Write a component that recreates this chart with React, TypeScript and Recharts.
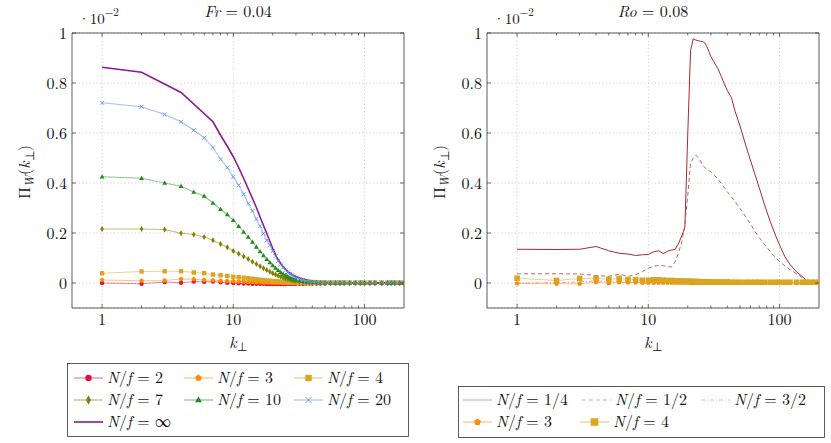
import React from 'react'
import { LineChart, Line, XAxis, YAxis, CartesianGrid, ReferenceLine } from 'recharts'

// wavenumbers k_perp (integer up to 30, then sparser)
const K = [
  1, 2, 3, 4, 5, 6, 7, 8, 9, 10,
  11, 12, 13, 14, 15, 16, 17, 18, 19, 20,
  21, 22, 23, 24, 25, 26, 27, 28, 29, 30,
  32, 34, 36, 38, 40, 43, 46, 50, 55, 60,
  65, 70, 77, 85, 93, 100, 110, 120, 135, 150,
  160, 170, 185, 200,
]

// left panel, Fr = 0.04 (values in units of 1e-2)
const L_NF2 = [
  0.0, -0.003, 0.004, 0.001, 0.006, 0.005, 0.006, 0.003, 0.001, 0.0,
  -0.001, -0.002, -0.002, -0.003, -0.003, -0.003, -0.003, -0.004, -0.004, -0.004,
  -0.004, -0.004, -0.004, -0.004, -0.004, -0.003, -0.003, -0.003, -0.003, -0.003,
  -0.003, -0.003, -0.002, -0.002, -0.002, -0.002, -0.002, -0.002, -0.001, -0.001,
  -0.001, -0.001, -0.001, -0.001, -0.001, -0.001, -0.001, -0.001, -0.001, -0.001,
  -0.001, -0.001, -0.001, -0.001,
]
const L_NF3 = [
  0.012, 0.009, 0.01, 0.016, 0.015, 0.012, 0.011, 0.009, 0.008, 0.007,
  0.006, 0.005, 0.004, 0.004, 0.003, 0.003, 0.002, 0.002, 0.002, 0.001,
  0.001, 0.001, 0.001, 0.0, 0.0, 0.0, 0.0, 0.0, 0.0, 0.0,
  0.0, 0.0, 0.0, 0.0, 0.0, 0.0, 0.0, 0.0, 0.0, 0.0,
  0.0, 0.0, 0.0, 0.0, 0.0, 0.0, 0.0, 0.0, 0.0, 0.0,
  0.0, 0.0, 0.0, 0.0,
]
const L_NF4 = [
  0.039, 0.046, 0.047, 0.047, 0.042, 0.039, 0.034, 0.031, 0.028, 0.025,
  0.023, 0.021, 0.019, 0.017, 0.015, 0.013, 0.012, 0.01, 0.009, 0.008,
  0.007, 0.006, 0.005, 0.004, 0.004, 0.003, 0.003, 0.002, 0.002, 0.002,
  0.002, 0.002, 0.002, 0.002, 0.002, 0.002, 0.002, 0.002, 0.002, 0.002,
  0.002, 0.002, 0.002, 0.002, 0.002, 0.002, 0.002, 0.002, 0.002, 0.002,
  0.002, 0.002, 0.002, 0.002,
]
const L_NF7 = [
  0.216, 0.216, 0.214, 0.199, 0.194, 0.184, 0.171, 0.156, 0.143, 0.128,
  0.117, 0.106, 0.096, 0.085, 0.076, 0.067, 0.059, 0.052, 0.045, 0.039,
  0.034, 0.029, 0.025, 0.021, 0.018, 0.015, 0.013, 0.011, 0.009, 0.008,
  0.006, 0.004, 0.003, 0.002, 0.002, 0.001, 0.001, 0.0, 0.0, 0.0,
  0.0, 0.0, 0.0, 0.0, 0.0, 0.0, 0.0, 0.0, 0.0, 0.0,
  0.0, 0.0, 0.0, 0.0,
]
const L_NF10 = [
  0.425, 0.419, 0.4, 0.387, 0.364, 0.348, 0.32, 0.295, 0.274, 0.251,
  0.227, 0.204, 0.184, 0.164, 0.144, 0.126, 0.11, 0.095, 0.082, 0.07,
  0.06, 0.051, 0.043, 0.036, 0.031, 0.026, 0.022, 0.018, 0.015, 0.013,
  0.009, 0.007, 0.005, 0.004, 0.003, 0.002, 0.001, 0.001, 0.0, 0.0,
  0.0, 0.0, 0.0, 0.0, 0.0, 0.0, 0.0, 0.0, 0.0, 0.0,
  0.0, 0.0, 0.0, 0.0,
]
const L_NF20 = [
  0.721, 0.705, 0.674, 0.645, 0.611, 0.581, 0.542, 0.495, 0.462, 0.424,
  0.391, 0.355, 0.318, 0.288, 0.256, 0.227, 0.198, 0.171, 0.151, 0.128,
  0.108, 0.089, 0.074, 0.062, 0.051, 0.043, 0.036, 0.031, 0.026, 0.022,
  0.016, 0.012, 0.009, 0.007, 0.005, 0.004, 0.003, 0.002, 0.002, 0.002,
  0.002, 0.002, 0.001, 0.001, 0.001, 0.001, 0.001, 0.001, 0.001, 0.001,
  0.001, 0.001, 0.001, 0.001,
]
const L_NFINF = [
  0.863, 0.843, null, 0.762, null, null, 0.645, 0.591, 0.547, 0.505,
  0.461, 0.418, 0.377, 0.338, 0.302, 0.264, 0.23, 0.198, 0.167, 0.138,
  0.113, 0.093, 0.078, 0.065, 0.055, 0.047, 0.04, 0.034, 0.03, 0.026,
  0.02, 0.016, 0.013, 0.01, 0.008, 0.006, 0.005, 0.004, 0.003, 0.002,
  0.002, 0.002, 0.001, 0.001, 0.001, 0.001, 0.001, 0.001, 0.001, 0.001,
  0.001, 0.001, 0.001, 0.001,
]

// right panel, Ro = 0.08
const R_NF14 = [
  0.135, 0.134, 0.135, 0.146, 0.129, 0.119, 0.116, 0.11, 0.113, 0.114,
  0.125, 0.129, 0.118, 0.127, 0.132, 0.134, 0.158, 0.189, 0.222, 0.6,
  0.93, 0.977, 0.972, 0.969, 0.967, 0.966, 0.96, 0.945, 0.925, 0.906,
  0.88, 0.857, 0.826, 0.797, 0.77, 0.742, 0.685, 0.628, 0.555, 0.492,
  0.435, 0.382, 0.312, 0.246, 0.192, 0.152, 0.105, 0.075, 0.044, 0.025,
  0.011, 0.002, null, null,
]
const R_NF12 = [
  0.037, 0.037, 0.036, 0.03, 0.027, 0.035, 0.027, 0.033, 0.045, 0.059,
  0.068, 0.07, 0.069, 0.066, 0.064, 0.084, 0.121, 0.164, 0.231, 0.351,
  0.479, 0.499, 0.512, 0.501, 0.488, 0.47, 0.462, 0.454, 0.449, 0.445,
  0.43, 0.415, 0.398, 0.382, 0.365, 0.345, 0.324, 0.298, 0.266, 0.236,
  0.206, 0.182, 0.154, 0.126, 0.102, 0.086, 0.068, 0.054, 0.037, 0.021,
  0.01, 0.002, null, null,
]
const R_NF32 = [
  0.0, 0.001, 0.004, 0.008, 0.006, 0.004, 0.003, 0.001, -0.001, -0.002,
  -0.002, -0.001, 0.0, 0.0, 0.0, 0.0, 0.0, 0.0, 0.0, 0.0,
  0.0, 0.0, 0.0, 0.0, 0.0, 0.0, 0.0, 0.0, 0.0, 0.0,
  0.0, 0.0, 0.0, 0.0, 0.0, 0.0, 0.0, 0.0, 0.0, 0.0,
  0.0, 0.0, 0.0, 0.0, 0.0, 0.0, 0.0, 0.0, 0.0, 0.0,
  0.0, 0.0, null, null,
]
const R_NF3 = [
  -0.002, -0.003, -0.003, 0.003, -0.001, 0.003, 0.002, 0.002, 0.001, 0.001,
  0.001, 0.001, 0.001, 0.001, 0.001, 0.001, 0.001, 0.001, 0.001, 0.001,
  0.0, 0.0, 0.0, 0.0, 0.0, 0.0, 0.0, 0.0, 0.0, 0.0,
  0.0, 0.0, 0.0, 0.0, 0.0, 0.0, 0.0, 0.0, 0.0, 0.0,
  0.0, 0.0, 0.0, 0.0, 0.0, 0.0, 0.0, 0.0, 0.0, 0.0,
  0.0, 0.0, 0.0, 0.0,
]
const R_NF4 = [
  0.019, 0.01, 0.018, 0.019, 0.015, 0.018, 0.014, 0.013, 0.011, 0.011,
  0.013, 0.013, 0.011, 0.01, 0.01, 0.009, 0.009, 0.008, 0.008, 0.007,
  0.007, 0.006, 0.006, 0.006, 0.005, 0.005, 0.005, 0.005, 0.004, 0.004,
  0.004, 0.004, 0.004, 0.004, 0.004, 0.003, 0.003, 0.003, 0.003, 0.003,
  0.003, 0.003, 0.003, 0.003, 0.003, 0.003, 0.003, 0.003, 0.003, 0.003,
  0.003, 0.003, 0.003, 0.003,
]

const MAJOR_X = [1, 10, 100]
const MINOR_X = [2, 3, 4, 5, 6, 7, 8, 9, 20, 30, 40, 50, 60, 70, 80, 90]
const Y_TICKS = [0, 0.2, 0.4, 0.6, 0.8, 1]
const Y_LABELS = ['0', '0.2', '0.4', '0.6', '0.8', '1']

const TXT = { fontFamily: '"Latin Modern Roman", "CMU Serif", serif' }
const AXIS = '#333'
const GRID = '#c8c8c8'

type Marker = 'circle' | 'pentagon' | 'square' | 'diamond' | 'triangle' | 'cross'
type Series = {
  key: string
  label: string
  values: (number | null)[]
  color: string
  marker?: Marker
  size?: number
  dash?: string
  width?: number
  opacity?: number
  legendOpacity?: number
}

const LEFT: Series[] = [
  { key: 'a', label: '2', values: L_NF2, color: '#dc143c', marker: 'circle', size: 2.2, opacity: 0.5 },
  { key: 'b', label: '3', values: L_NF3, color: '#ff8c00', marker: 'pentagon', size: 2.5, opacity: 0.5 },
  { key: 'c', label: '4', values: L_NF4, color: '#daa520', marker: 'square', size: 2.2, opacity: 0.5 },
  { key: 'd', label: '7', values: L_NF7, color: '#808000', marker: 'diamond', size: 2.4, opacity: 0.5 },
  { key: 'e', label: '10', values: L_NF10, color: '#228b22', marker: 'triangle', size: 2.6, opacity: 0.5 },
  { key: 'f', label: '20', values: L_NF20, color: '#6495ed', marker: 'cross', size: 2, opacity: 0.6 },
  { key: 'g', label: '∞', values: L_NFINF, color: '#8b1a96', width: 1.6, opacity: 1 },
]

const RIGHT: Series[] = [
  { key: 'a', label: '1/4', values: R_NF14, color: '#9b2226', width: 1, opacity: 0.95, legendOpacity: 0.45 },
  { key: 'b', label: '1/2', values: R_NF12, color: '#c0504d', width: 1, dash: '4 3', opacity: 0.9, legendOpacity: 0.5 },
  { key: 'c', label: '3/2', values: R_NF32, color: '#e8839a', width: 1, dash: '4 2 1 2', opacity: 0.8, legendOpacity: 0.6 },
  { key: 'd', label: '3', values: R_NF3, color: '#ff8c00', marker: 'pentagon', size: 2.6, opacity: 0.5 },
  { key: 'e', label: '4', values: R_NF4, color: '#daa520', marker: 'square', size: 2.8, opacity: 0.5 },
]

function shape(kind: Marker, cx: number, cy: number, s: number, color: string) {
  if (kind === 'circle') return <circle cx={cx} cy={cy} r={s} fill={color} />
  if (kind === 'square') return <rect x={cx - s} y={cy - s} width={2 * s} height={2 * s} fill={color} />
  if (kind === 'pentagon') {
    const pts = [0, 1, 2, 3, 4]
      .map((i) => {
        const a = -Math.PI / 2 + (i * 2 * Math.PI) / 5
        return `${cx + s * Math.cos(a)},${cy + s * Math.sin(a)}`
      })
      .join(' ')
    return <polygon points={pts} fill={color} />
  }
  if (kind === 'diamond')
    return (
      <polygon
        points={`${cx},${cy - s * 1.3} ${cx + s * 0.75},${cy} ${cx},${cy + s * 1.3} ${cx - s * 0.75},${cy}`}
        fill={color}
      />
    )
  if (kind === 'triangle')
    return (
      <polygon
        points={`${cx},${cy - s} ${cx + s * 0.95},${cy + s * 0.65} ${cx - s * 0.95},${cy + s * 0.65}`}
        fill={color}
      />
    )
  return (
    <g stroke={color} strokeWidth={0.9}>
      <line x1={cx - s} y1={cy - s} x2={cx + s} y2={cy + s} />
      <line x1={cx - s} y1={cy + s} x2={cx + s} y2={cy - s} />
    </g>
  )
}

function BottomTick(props: any) {
  const { x, y, payload } = props
  const major = MAJOR_X.includes(payload.value)
  return (
    <g>
      <line x1={x} x2={x} y1={y} y2={y - (major ? 4 : 2.5)} stroke={AXIS} strokeWidth={0.7} />
      {major && (
        <text x={x} y={y + 17} textAnchor="middle" style={TXT} fontSize={16} fill="#111">
          {payload.value}
        </text>
      )}
    </g>
  )
}

function TopTick(props: any) {
  const { x, y, payload } = props
  const major = MAJOR_X.includes(payload.value)
  return <line x1={x} x2={x} y1={y} y2={y + (major ? 4 : 2.5)} stroke={AXIS} strokeWidth={0.7} />
}

function LeftTick(props: any) {
  const { x, y, index } = props
  return (
    <g>
      <line x1={x} x2={x + 4} y1={y} y2={y} stroke={AXIS} strokeWidth={0.7} />
      <text x={x - 5} y={y + 5.5} textAnchor="end" style={TXT} fontSize={16} fill="#111">
        {Y_LABELS[index]}
      </text>
    </g>
  )
}

function RightTick(props: any) {
  const { x, y } = props
  return <line x1={x} x2={x - 4} y1={y} y2={y} stroke={AXIS} strokeWidth={0.7} />
}

function Panel({ series, left }: { series: Series[]; left: number }) {
  const rows = K.map((k, i) => {
    const row: Record<string, number | null> = { k }
    series.forEach((s) => {
      row[s.key] = s.values[i]
    })
    return row
  })
  const xTicks = [...MAJOR_X, ...MINOR_X].sort((a, b) => a - b)
  return (
    <div style={{ position: 'absolute', left, top: 0 }}>
      <LineChart width={416} height={360} data={rows} margin={{ left: 71, right: 11, top: 32, bottom: 51 }}>
        <CartesianGrid vertical={false} xAxisId="b" yAxisId="l" stroke={GRID} strokeDasharray="1 2.5" />
        {MAJOR_X.map((v) => (
          <ReferenceLine key={v} x={v} xAxisId="b" yAxisId="l" stroke={GRID} strokeDasharray="1 2.5" />
        ))}
        <XAxis
          xAxisId="b"
          dataKey="k"
          type="number"
          scale="log"
          domain={[0.59, 200]}
          allowDataOverflow
          ticks={xTicks}
          interval={0}
          height={1}
          tickSize={0}
          tickMargin={0}
          tickLine={false}
          axisLine={{ stroke: AXIS, strokeWidth: 0.8 }}
          tick={BottomTick}
        />
        <XAxis
          xAxisId="t"
          orientation="top"
          dataKey="k"
          type="number"
          scale="log"
          domain={[0.59, 200]}
          allowDataOverflow
          ticks={xTicks}
          interval={0}
          height={1}
          tickSize={0}
          tickMargin={0}
          tickLine={false}
          axisLine={{ stroke: AXIS, strokeWidth: 0.8 }}
          tick={TopTick}
        />
        <YAxis
          yAxisId="l"
          type="number"
          domain={[-0.1, 1]}
          allowDataOverflow
          ticks={Y_TICKS}
          interval={0}
          width={1}
          tickSize={0}
          tickMargin={0}
          tickLine={false}
          axisLine={{ stroke: AXIS, strokeWidth: 0.8 }}
          tick={LeftTick}
        />
        <YAxis
          yAxisId="r"
          orientation="right"
          type="number"
          domain={[-0.1, 1]}
          allowDataOverflow
          ticks={Y_TICKS}
          interval={0}
          width={1}
          tickSize={0}
          tickMargin={0}
          tickLine={false}
          axisLine={{ stroke: AXIS, strokeWidth: 0.8 }}
          tick={RightTick}
        />
        {series.map((s) => (
          <Line
            key={s.key}
            xAxisId="b"
            yAxisId="l"
            dataKey={s.key}
            type="linear"
            stroke={s.color}
            strokeOpacity={s.opacity ?? 1}
            strokeWidth={s.width ?? 1.1}
            strokeDasharray={s.dash}
            connectNulls
            activeDot={false}
            isAnimationActive={false}
            dot={
              s.marker
                ? (p: any) => {
                    const ok = p.cx != null && p.cy != null && !isNaN(p.cx) && !isNaN(p.cy) && p.value != null
                    return (
                      <g key={`${s.key}-${p.index}`}>
                        {ok ? shape(s.marker as Marker, p.cx, p.cy, s.size ?? 2.2, s.color) : null}
                      </g>
                    )
                  }
                : false
            }
          />
        ))}
      </LineChart>
    </div>
  )
}

function nf(value: string) {
  return (
    <>
      <tspan fontStyle="italic">N</tspan>
      <tspan>/</tspan>
      <tspan fontStyle="italic">f</tspan>
      <tspan> = {value}</tspan>
    </>
  )
}

function LegendItem({ x, y, s }: { x: number; y: number; s: Series }) {
  return (
    <g>
      <line
        x1={x}
        x2={x + 29}
        y1={y}
        y2={y}
        stroke={s.color}
        strokeOpacity={s.legendOpacity ?? (s.marker ? 0.5 : 1)}
        strokeWidth={s.marker ? 1.3 : s.width ?? 1.2}
        strokeDasharray={s.dash}
      />
      {s.marker ? shape(s.marker, x + 14.5, y, (s.size ?? 2.2) + 1, s.color) : null}
      <text x={x + 33} y={y + 5} style={TXT} fontSize={16} fill="#111">
        {nf(s.label)}
      </text>
    </g>
  )
}

function Labels({ dx, title }: { dx: number; title: React.ReactNode }) {
  return (
    <g transform={`translate(${dx},0)`} style={TXT} fill="#111">
      <text x={238} y={17} textAnchor="middle" fontSize={16}>
        {title}
      </text>
      <text x={78} y={24} fontSize={15}>
        ·10<tspan dy={-8} fontSize={11}>−2</tspan>
      </text>
      <text x={238} y={348} textAnchor="middle" fontSize={16}>
        <tspan fontStyle="italic">k</tspan>
        <tspan fontSize={12} dy={3}>⊥</tspan>
      </text>
      <text transform="translate(30,172) rotate(-90)" textAnchor="middle" fontSize={16}>
        <tspan>Π</tspan>
        <tspan fontStyle="italic" fontSize={12} dy={4}>W</tspan>
        <tspan dy={-4}>(</tspan>
        <tspan fontStyle="italic">k</tspan>
        <tspan fontSize={12} dy={4}>⊥</tspan>
        <tspan dy={-4}>)</tspan>
      </text>
    </g>
  )
}

export default function App() {
  const leftCols = [74, 184, 294]
  const leftRows = [378, 400, 422]
  const rightPos = [
    [463, 400],
    [582, 400],
    [701, 400],
    [463, 422],
    [580, 422],
  ]
  return (
    <div style={{ position: 'absolute', left: 0, top: 0, width: 831, height: 443, background: '#fff' }}>
      <Panel series={LEFT} left={0} />
      <Panel series={RIGHT} left={415} />
      <svg width={831} height={443} style={{ position: 'absolute', left: 0, top: 0, pointerEvents: 'none' }}>
        <Labels
          dx={0}
          title={
            <>
              <tspan fontStyle="italic">Fr</tspan>
              <tspan> = 0.04</tspan>
            </>
          }
        />
        <Labels
          dx={415}
          title={
            <>
              <tspan fontStyle="italic">Ro</tspan>
              <tspan> = 0.08</tspan>
            </>
          }
        />
        <rect x={67.5} y={363.5} width={341} height={73} fill="none" stroke={AXIS} strokeWidth={0.8} />
        {LEFT.map((s, i) => (
          <LegendItem key={s.key} s={s} x={leftCols[i % 3]} y={leftRows[Math.floor(i / 3)]} />
        ))}
        <rect x={458.5} y={386.5} width={366} height={51} fill="none" stroke={AXIS} strokeWidth={0.8} />
        {RIGHT.map((s, i) => (
          <LegendItem key={s.key} s={s} x={rightPos[i][0]} y={rightPos[i][1]} />
        ))}
      </svg>
    </div>
  )
}
